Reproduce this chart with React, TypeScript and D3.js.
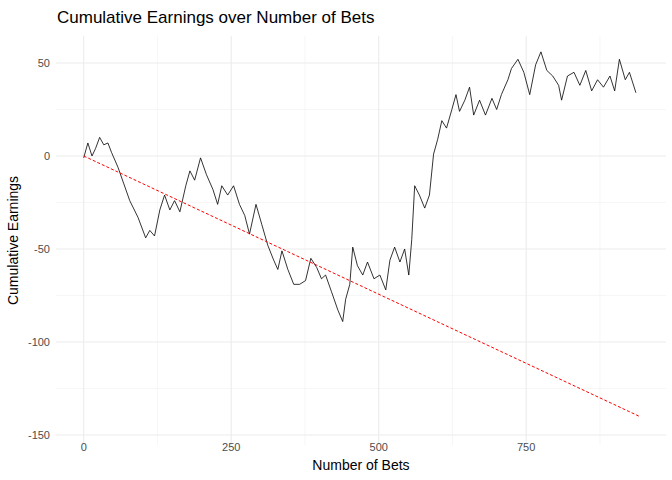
import * as d3 from "d3";

// bet index and cumulative earnings
const bets = [0,7,14,20,27,34,41,47,58,68,78,92,105,112,120,129,137,146,154,163,173,180,188,198,208,219,227,234,244,254,264,273,281,292,302,312,322,329,336,346,356,366,376,385,395,403,410,420,431,439,444,451,456,464,473,481,492,502,512,519,527,536,544,551,556,561,569,578,586,593,600,607,615,624,631,637,646,654,661,671,681,692,700,708,719,725,736,746,756,766,775,785,795,805,810,820,831,841,851,861,871,881,892,900,908,918,925,936];
const earnings = [-1,7,0,4,10,6,7,2,-6,-15,-24,-33,-44,-40,-43,-29,-21,-29,-24,-30,-16,-8,-13,-1,-10,-18,-26,-16,-21,-16,-26,-32,-42,-26,-37,-48,-56,-61,-51,-61,-69,-69,-67,-55,-60,-66,-64,-73,-83,-89,-77,-69,-49,-59,-64,-57,-66,-64,-72,-56,-49,-57,-50,-64,-45,-16,-21,-28,-21,1,9,19,15,25,33,24,30,37,22,30,22,31,25,33,41,47,52,45,33,49,56,46,43,38,30,43,45,38,46,35,41,37,43,35,52,41,45,34];
const expectedStart = [0, 0];
const expectedEnd = [942, -140];
const xTicks = [0, 250, 500, 750];
const xMinor = [125, 375, 625, 875];
const yTicks = [-150, -100, -50, 0, 50];
const yMinor = [-125, -75, -25, 25];

export default function App() {
  const width = 672, height = 480;
  const margin = { top: 36, right: 6, bottom: 35, left: 56 };
  const x = d3.scaleLinear().domain([-47, 987]).range([margin.left, width - margin.right]);
  const y = d3.scaleLinear().domain([-150, 50]).range([435, 63]);
  const line = d3.line<number>().x((_, i) => x(bets[i])).y((d) => y(d));
  const font = "Liberation Sans, Arial, sans-serif";
  return (
    <svg width={width} height={height} style={{ position: "absolute", left: 0, top: 0, fontFamily: font }}>
      <rect width={width} height={height} fill="#fff" />
      {xMinor.map((t) => <line key={"xm" + t} x1={x(t)} x2={x(t)} y1={margin.top} y2={height - margin.bottom} stroke="#f0f0f0" strokeWidth={0.6} />)}
      {yMinor.map((t) => <line key={"ym" + t} y1={y(t)} y2={y(t)} x1={margin.left} x2={width - margin.right} stroke="#f0f0f0" strokeWidth={0.6} />)}
      {xTicks.map((t) => <line key={"x" + t} x1={x(t)} x2={x(t)} y1={margin.top} y2={height - margin.bottom} stroke="#ebebeb" strokeWidth={1.1} />)}
      {yTicks.map((t) => <line key={"y" + t} y1={y(t)} y2={y(t)} x1={margin.left} x2={width - margin.right} stroke="#ebebeb" strokeWidth={1.1} />)}
      <path d={line(earnings) || ""} fill="none" stroke="#000" strokeWidth={0.8} />
      <line x1={x(expectedStart[0])} y1={y(expectedStart[1])} x2={x(expectedEnd[0])} y2={y(expectedEnd[1])} stroke="#ff0000" strokeWidth={1} strokeDasharray="3,2" />
      {xTicks.map((t) => <text key={"xt" + t} x={x(t)} y={451} fontSize={11} fill="#4d4d4d" textAnchor="middle">{t}</text>)}
      {yTicks.map((t) => <text key={"yt" + t} x={50} y={y(t)} dy="0.35em" fontSize={11} fill="#4d4d4d" textAnchor="end">{t}</text>)}
      <text x={x(470)} y={470} fontSize={14} textAnchor="middle">Number of Bets</text>
      <text transform={`translate(18,${(margin.top + height - margin.bottom) / 2}) rotate(-90)`} fontSize={14} textAnchor="middle">Cumulative Earnings</text>
      <text x={57} y={23} fontSize={17}>Cumulative Earnings over Number of Bets</text>
    </svg>
  );
}
